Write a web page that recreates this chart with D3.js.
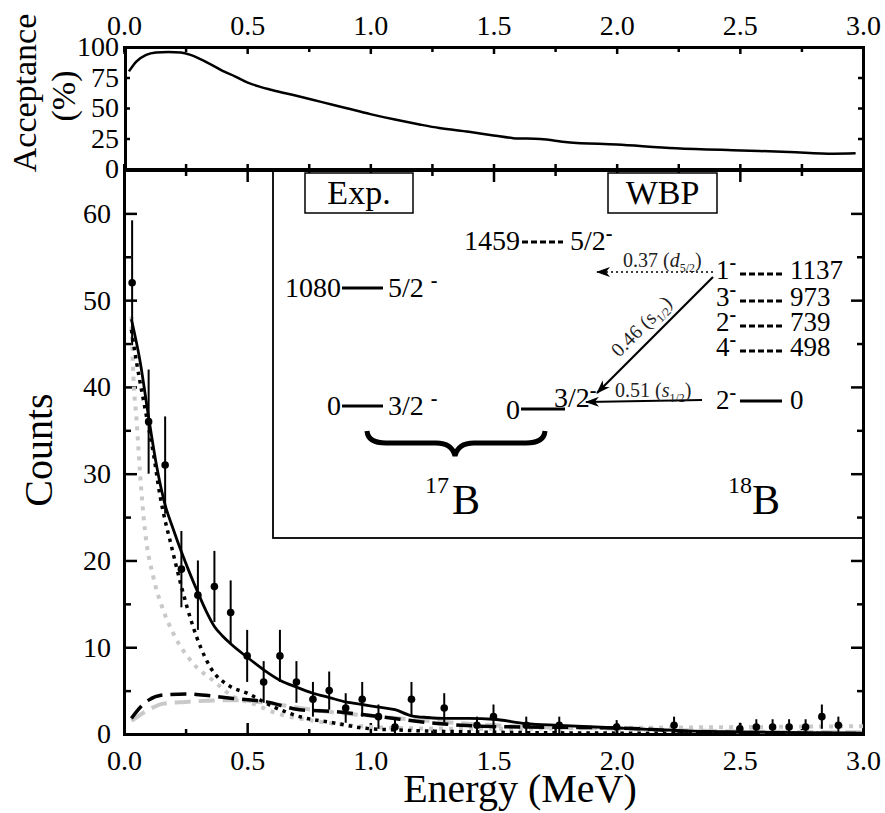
<!DOCTYPE html>
<html>
<head>
<meta charset="utf-8">
<script src="https://cdn.jsdelivr.net/npm/d3@7"></script>
<style>
body { margin: 0; background: #fff; }
svg { display: block; }
</style>
</head>
<body>
<svg id="chart" width="885" height="813"></svg>
<script>
// ---- data ----
var accE   = [0.02,0.05,0.09,0.13,0.18,0.23,0.27,0.31,0.35,0.4,0.45,0.5,0.55,0.6,0.7,0.8,0.9,1.0,1.1,1.2,1.28,1.4,1.5,1.58,1.69,1.8,2.0,2.24,2.47,2.7,2.88,2.97];
var accVal = [80,88,93.5,95.5,96,95.5,93.5,90,86,80.5,76,71,67.5,64.8,60,55,50,45,40.5,36.5,33.6,30.5,27.5,25.3,24.5,22,20,17.1,15.4,14,12.6,12.9];

var dataE   = [0.033,0.1,0.167,0.233,0.3,0.367,0.433,0.5,0.567,0.633,0.7,0.767,0.833,0.9,0.967,1.033,1.1,1.167,1.3,1.433,1.5,1.633,1.767,2.0,2.233,2.5,2.567,2.633,2.7,2.767,2.833,2.9];
var dataCnt = [52,36,31,19,16,17,14,9,6,9,6,4,5,3,4,2,0.8,4,3,1,2,1,1,0.8,1,0.6,0.8,0.8,0.8,0.8,2,1];
var dataErr = [7.2,6,5.6,4.4,4,4.1,3.7,3,2.4,3,2.4,2,2.2,1.7,2,1.4,0.9,2,1.7,1,1.4,1,1,0.8,1,0.7,0.9,0.9,0.9,0.9,1.4,1];

var totalFit  = [[0.03,47.8],[0.065,43],[0.1,36.5],[0.133,30.8],[0.166,26.5],[0.2,23.6],[0.233,21],[0.266,18.6],[0.3,16.3],[0.333,14.2],[0.367,12.4],[0.4,11.3],[0.433,10.4],[0.5,8.85],[0.567,7.4],[0.633,6.2],[0.7,5.4],[0.767,4.7],[0.833,4.2],[0.9,3.7],[0.967,3.4],[1.033,3.1],[1.1,2.8],[1.167,2.1],[1.233,1.9],[1.3,1.8],[1.4,1.8],[1.5,1.7],[1.633,1.2],[1.767,1.0],[2.0,0.7],[2.25,0.4],[2.5,0.25],[2.75,0.15],[3.0,0.1]];
var blackDots = [[0.03,46.6],[0.05,43],[0.09,36.8],[0.12,32.2],[0.146,27.5],[0.166,24.7],[0.186,22.4],[0.233,17],[0.28,12.4],[0.348,7.8],[0.43,5.5],[0.5,4.7],[0.605,3.15],[0.713,2.0],[0.848,1.3],[0.983,0.65],[1.12,0.45],[1.3,0.3],[1.5,0.2],[2.0,0.1],[3.0,0.03]];
var greyDots  = [[0.03,48.1],[0.038,41.2],[0.051,36.2],[0.065,30.1],[0.085,23.5],[0.119,18.1],[0.159,14.3],[0.2,11.6],[0.28,8.15],[0.36,6.2],[0.443,4.3],[0.524,3.5],[0.618,2.4],[0.753,1.6],[0.916,1.0],[1.186,0.65],[1.5,0.6],[2.0,0.7],[2.5,0.8],[3.0,0.9]];
var blackDash = [[0.03,1.8],[0.07,3.2],[0.1,3.9],[0.159,4.5],[0.254,4.6],[0.35,4.4],[0.443,4.1],[0.578,3.7],[0.713,2.8],[0.848,2.6],[0.983,2.2],[1.12,1.7],[1.24,1.3],[1.51,0.85],[2.0,0.7],[2.32,0.27],[2.6,0.1],[3.0,0.05]];
var greyDash  = [[0.03,1.5],[0.1,2.8],[0.16,3.5],[0.25,3.7],[0.443,3.9],[0.578,3.6],[0.713,3.0],[0.848,2.5],[1.0,2.1],[1.2,1.6],[1.5,1.0],[2.0,0.6],[2.5,0.3],[3.0,0.2]];

var xMajor = [0,0.5,1,1.5,2,2.5,3];
var xMinor = [0.25,0.75,1.25,1.75,2.25,2.75];
var accTicks = [0,25,50,75,100];
var cntMajor = [0,10,20,30,40,50,60];
var cntMinor = [5,15,25,35,45,55];

// level scheme (keV)
var expE = [0,1080],   expJ = ["3/2","5/2"];
var wbpE = [0,1459],   wbpJ = ["3/2","5/2"];
var b18E = [0,498,739,973,1137], b18J = ["2","4","2","3","1"];
var sfVal = ["0.37","0.46","0.51"], sfOrb = ["d","s","s"], sfJ = ["5/2","1/2","1/2"];

var FONT = "'Liberation Serif','Times New Roman',serif";
var svg = d3.select("#chart").attr("font-family", FONT);

var x = d3.scaleLinear().domain([0,3]).range([124,863]);
var yTop = d3.scaleLinear().domain([0,100]).range([169,47]);
var yBot = d3.scaleLinear().domain([0,65]).range([734,170]);

function drawAxis(axis, tx, ty) {
  var g = svg.append("g").attr("transform","translate("+tx+","+ty+")").call(axis);
  g.attr("font-family", FONT).attr("font-size", 28);
  g.selectAll("line").attr("stroke-width", 2.5);
  g.select(".domain").attr("stroke-width", 3);
  g.selectAll("text").attr("fill","#000");
  return g;
}

// ---- top panel: acceptance ----
drawAxis(d3.axisTop(x).tickValues(xMajor).tickFormat(d3.format(".1f")).tickSizeInner(-7).tickSizeOuter(0).tickPadding(12), 0, 47);
drawAxis(d3.axisTop(x).tickValues(xMinor).tickFormat("").tickSize(-5), 0, 47);
drawAxis(d3.axisBottom(x).tickValues(xMajor.concat(xMinor)).tickFormat("").tickSize(-5), 0, 169);
drawAxis(d3.axisLeft(yTop).tickValues(accTicks).tickSizeInner(-5).tickSizeOuter(0).tickPadding(6), 125, 0);
drawAxis(d3.axisRight(yTop).tickValues([25,50,75]).tickFormat("").tickSizeInner(-5).tickSizeOuter(0), 863, 0);

svg.append("path")
  .datum(accE.map(function (e, i) { return [e, accVal[i]]; }))
  .attr("fill","none").attr("stroke","#000").attr("stroke-width",2.5)
  .attr("d", d3.line().x(function (d) { return x(d[0]); }).y(function (d) { return yTop(d[1]); }).curve(d3.curveMonotoneX));

svg.append("text").attr("transform","translate(36,93) rotate(-90)")
  .attr("text-anchor","middle").attr("font-size",34).text("Acceptance");
svg.append("text").attr("transform","translate(75,96) rotate(-90)")
  .attr("text-anchor","middle").attr("font-size",34).text("(%)");

// ---- bottom panel: counts ----
// inset box first so the spectrum sits on top
svg.append("rect").attr("x",273).attr("y",170).attr("width",590).attr("height",368)
  .attr("fill","#fff").attr("stroke","#000").attr("stroke-width",1.8);

drawAxis(d3.axisBottom(x).tickValues(xMajor).tickFormat(d3.format(".1f")).tickSizeInner(-11).tickSizeOuter(0).tickPadding(16), 0, 734);
drawAxis(d3.axisBottom(x).tickValues(xMinor).tickFormat("").tickSize(-5), 0, 734);
drawAxis(d3.axisTop(x).tickValues(xMajor).tickFormat("").tickSize(-12), 0, 170);
drawAxis(d3.axisTop(x).tickValues(xMinor).tickFormat("").tickSize(-6), 0, 170);
drawAxis(d3.axisLeft(yBot).tickValues(cntMajor).tickSizeInner(-13).tickSizeOuter(0).tickPadding(13), 124, 0);
drawAxis(d3.axisLeft(yBot).tickValues(cntMinor).tickFormat("").tickSize(-7), 124, 0);
drawAxis(d3.axisRight(yBot).tickValues(cntMajor).tickFormat("").tickSize(-12), 863, 0);
drawAxis(d3.axisRight(yBot).tickValues(cntMinor).tickFormat("").tickSize(-6), 863, 0);

svg.append("defs").append("clipPath").attr("id","plotClip")
  .append("rect").attr("x",124).attr("y",170).attr("width",739).attr("height",564);

var curveLine = d3.line().x(function (d) { return x(d[0]); }).y(function (d) { return yBot(d[1]); }).curve(d3.curveMonotoneX);
var curves = svg.append("g").attr("clip-path","url(#plotClip)");
var styles = [
  {d: greyDots,  c: "#c9c9c9", w: 4,   dash: "4,6"},
  {d: greyDash,  c: "#c9c9c9", w: 4,   dash: "16,8"},
  {d: blackDash, c: "#000",    w: 3.5, dash: "16,8"},
  {d: blackDots, c: "#000",    w: 3.5, dash: "3.5,5"},
  {d: totalFit,  c: "#000",    w: 2.8, dash: null}
];
styles.forEach(function (s) {
  curves.append("path").datum(s.d).attr("fill","none").attr("stroke",s.c)
    .attr("stroke-width",s.w).attr("stroke-dasharray",s.dash).attr("d",curveLine);
});

// data points with error bars
dataE.forEach(function (e, i) {
  curves.append("line").attr("x1",x(e)).attr("x2",x(e))
    .attr("y1",yBot(Math.max(0,dataCnt[i]-dataErr[i]))).attr("y2",yBot(dataCnt[i]+dataErr[i]))
    .attr("stroke","#000").attr("stroke-width",2);
  curves.append("circle").attr("cx",x(e)).attr("cy",yBot(dataCnt[i])).attr("r",3.8).attr("fill","#000");
});

svg.append("text").attr("transform","translate(52,450) rotate(-90)")
  .attr("text-anchor","middle").attr("font-size",40).text("Counts");
svg.append("text").attr("x",520).attr("y",802)
  .attr("text-anchor","middle").attr("font-size",40).text("Energy (MeV)");

// ---- inset: level scheme ----
var yExp = d3.scaleLinear().domain([0,1080]).range([405,287]);
var yWbp = d3.scaleLinear().domain([0,1459]).range([409,240]);
var y18  = d3.scaleLinear().domain(b18E).range([400,347,322,297,270]);

function jLabel(xx, yy, j, gap, size) {
  var t = svg.append("text").attr("x",xx).attr("y",yy).attr("dy","0.35em").attr("font-size",size).text(j);
  t.append("tspan").attr("dx",gap).attr("dy","-0.5em").attr("font-size",20).attr("font-weight","bold").text("-");
  return t;
}

[["Exp.",305,108],["WBP",608,109]].forEach(function (b) {
  svg.append("rect").attr("x",b[1]).attr("y",173).attr("width",b[2]).attr("height",40)
    .attr("fill","#fff").attr("stroke","#000").attr("stroke-width",1.5);
  svg.append("text").attr("x",b[1]+b[2]/2).attr("y",204).attr("text-anchor","middle")
    .attr("font-size",34).text(b[0]);
});

// experimental 17B
expE.forEach(function (e, i) {
  var yy = yExp(e);
  svg.append("text").attr("x",341).attr("y",yy).attr("dy","0.35em").attr("text-anchor","end").attr("font-size",28).text(e);
  svg.append("line").attr("x1",342).attr("x2",383).attr("y1",yy+1).attr("y2",yy+1).attr("stroke","#000").attr("stroke-width",3);
  jLabel(388, yy, expJ[i], 7, 28);
});

// WBP 17B
wbpE.forEach(function (e, i) {
  var yy = yWbp(e);
  svg.append("text").attr("x",520).attr("y",yy).attr("dy","0.35em").attr("text-anchor","end").attr("font-size",28).text(e);
  if (e === 0) {
    svg.append("line").attr("x1",521).attr("x2",565).attr("y1",yy).attr("y2",yy).attr("stroke","#000").attr("stroke-width",3);
    jLabel(554, yy-12, wbpJ[i], 0, 28);
  } else {
    svg.append("line").attr("x1",522).attr("x2",563).attr("y1",yy+2).attr("y2",yy+2)
      .attr("stroke","#000").attr("stroke-width",3).attr("stroke-dasharray","6,3");
    jLabel(570, yy, wbpJ[i], 0, 28);
  }
});

// WBP 18B (levels packed closely, slightly smaller type)
b18E.forEach(function (e, i) {
  var yy = y18(e);
  jLabel(716, yy, b18J[i], 0, 27);
  svg.append("line").attr("x1",740).attr("x2",782).attr("y1",yy+ (e === 0 ? 1 : 4)).attr("y2",yy+ (e === 0 ? 1 : 4))
    .attr("stroke","#000").attr("stroke-width",3).attr("stroke-dasharray", e === 0 ? null : "6,3");
  svg.append("text").attr("x",790).attr("y",yy).attr("dy","0.35em").attr("font-size",27).text(e);
});

// brace and nucleus labels
svg.append("path")
  .attr("d","M367,431 Q368,443 386,443 L436,443 Q452,443 455,456 Q458,443 474,443 L526,443 Q544,443 545,431")
  .attr("fill","none").attr("stroke","#000").attr("stroke-width",5);
[["17",425,452],["18",728,752]].forEach(function (n) {
  svg.append("text").attr("x",n[1]).attr("y",493).attr("font-size",24).text(n[0]);
  svg.append("text").attr("x",n[2]).attr("y",514).attr("font-size",42).text("B");
});

// spectroscopic-factor arrows
var defs = svg.append("defs");
defs.append("marker").attr("id","arrowHead").attr("viewBox","0 0 14 10").attr("refX",13).attr("refY",5)
  .attr("markerWidth",14).attr("markerHeight",10).attr("markerUnits","userSpaceOnUse").attr("orient","auto")
  .append("path").attr("d","M0,0L14,5L0,10L4,5Z").attr("fill","#000");

var arrows = [
  {x1:713, y1:y18(1137)+2, x2:597, y2:y18(1137)+2, dash:"2,3", w:1.6},
  {x1:713, y1:y18(1137)+7, x2:597, y2:yWbp(0)-16, dash:null, w:2.2},
  {x1:702, y1:y18(0),      x2:586, y2:y18(0)+2,   dash:null, w:2.2}
];
arrows.forEach(function (a) {
  svg.append("line").attr("x1",a.x1).attr("y1",a.y1).attr("x2",a.x2).attr("y2",a.y2)
    .attr("stroke","#000").attr("stroke-width",a.w).attr("stroke-dasharray",a.dash)
    .attr("marker-end","url(#arrowHead)");
});

function sfLabel(t, i, italic) {
  t.attr("font-size",20).attr("fill","#222");
  t.append("tspan").text(sfVal[i] + " (");
  t.append("tspan").attr("font-style", italic ? "italic" : "normal").text(sfOrb[i]);
  t.append("tspan").attr("font-size",12).attr("dy",5).text(sfJ[i]);
  t.append("tspan").attr("dy",-5).text(")");
}
sfLabel(svg.append("text").attr("x",623).attr("y",267), 0, true);
sfLabel(svg.append("text").attr("transform","translate(646,331) rotate(-45)").attr("text-anchor","middle"), 1, false);
sfLabel(svg.append("text").attr("x",615).attr("y",397), 2, true);
</script>
</body>
</html>
